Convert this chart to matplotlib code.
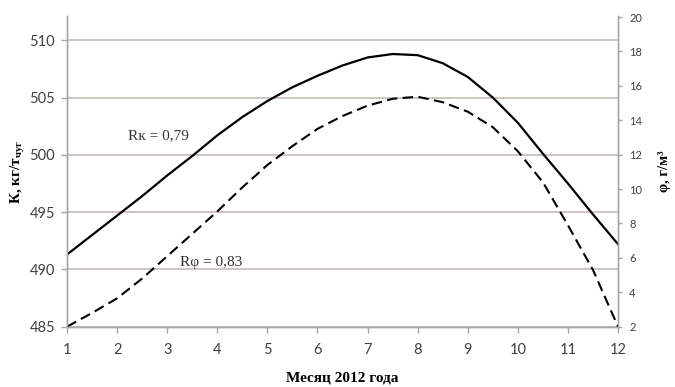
import numpy as np
import matplotlib.pyplot as plt

# months, read every half month off the original figure
months = np.arange(1, 12.5, 0.5)
k_values = [491.3, 493.0, 494.7, 496.4, 498.2, 499.9, 501.7, 503.3, 504.7, 505.9,
            506.9, 507.8, 508.5, 508.8, 508.7, 508.0, 506.8, 505.0, 502.8, 500.1,
            497.5, 494.8, 492.2]
phi_values = [2.0, 2.8, 3.65, 4.8, 6.1, 7.4, 8.7, 10.1, 11.4, 12.5,
              13.5, 14.25, 14.85, 15.25, 15.37, 15.05, 14.5, 13.6, 12.2, 10.4,
              7.9, 5.3, 2.0]
month_ticks = list(range(1, 13))
k_ticks = [485, 490, 495, 500, 505, 510]
phi_ticks = [2, 4, 6, 8, 10, 12, 14, 16, 18, 20]

grid_col = '#c9c0bc'
axis_col = '#a6a6a6'
tick_col = '#404040'
serif = 'Liberation Serif'
sans = 'Lato'

fig = plt.figure(figsize=(6.75, 3.87), dpi=100)
ax = fig.add_axes([0.0993, 0.1558, 0.8163, 0.8023])
ax2 = ax.twinx()

ax.plot(months, k_values, color='black', lw=1.6, solid_joinstyle='round')
ax2.plot(months, phi_values, color='black', lw=1.5, linestyle=(0, (5, 2.6)))

ax.set_xlim(1, 12)
ax.set_ylim(485, 512.1)
ax2.set_ylim(2, 20.05)
ax.set_xticks(month_ticks)
ax.set_yticks(k_ticks)
ax2.set_yticks(phi_ticks)

ax.yaxis.grid(True, color=grid_col, lw=1.3)
ax.set_axisbelow(True)

for a in (ax, ax2):
    a.spines['top'].set_visible(False)
    for s in ('left', 'right', 'bottom'):
        a.spines[s].set_color(axis_col)
        a.spines[s].set_linewidth(1.0)

ax.tick_params(axis='x', colors=axis_col, length=4, width=1, labelcolor=tick_col,
               labelsize=10.5, pad=7.5)
ax.tick_params(axis='y', colors=axis_col, length=4, width=1, labelcolor=tick_col,
               labelsize=10.5, pad=4.5)
ax2.tick_params(axis='y', colors=axis_col, length=3, width=1, labelcolor=tick_col,
                labelsize=8, pad=5)
for lab in ax.get_xticklabels() + ax.get_yticklabels() + ax2.get_yticklabels():
    lab.set_family(sans)

ax.set_xlabel('Месяц 2012 года', family=serif, fontweight='bold', fontsize=11,
              labelpad=11)
ax.set_ylabel(r'К, кг/т$_{\mathregular{чуг}}$', family=serif, fontweight='bold',
              fontsize=11)
ax.yaxis.set_label_coords(-0.0726, 0.5)
ax2.set_ylabel('φ, г/м³', family=serif, fontweight='bold', fontsize=10.5)
ax2.yaxis.set_label_coords(1.0726, 0.5)

ax.text(2.22, 501.7, 'Rк = 0,79', family=serif, fontsize=11, color='#333333',
        va='center', ha='left')
ax.text(3.26, 490.6, 'Rφ = 0,83', family=serif, fontsize=11, color='#333333',
        va='center', ha='left')

fig.savefig('out.png', dpi=100)
